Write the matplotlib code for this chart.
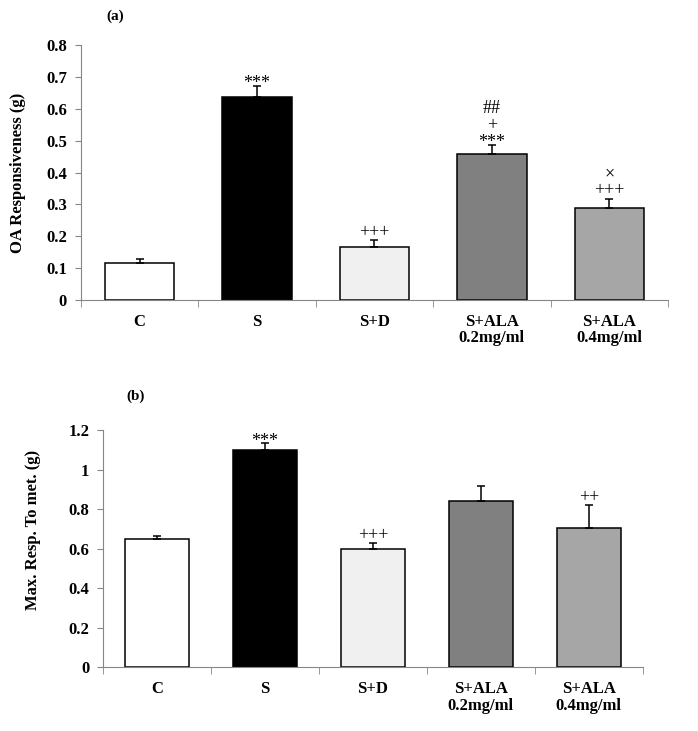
import matplotlib.pyplot as plt
from matplotlib.ticker import FuncFormatter, FixedLocator
import numpy as np

plt.rcParams['font.family'] = ['Liberation Serif', 'DejaVu Serif']

groups = ["C", "S", "S+D", "S+ALA\n0.2mg/ml", "S+ALA\n0.4mg/ml"]
bar_colors = ["#ffffff", "#000000", "#f0f0f0", "#808080", "#a6a6a6"]

# panel (a) OA responsiveness
oa_mean = [0.116, 0.638, 0.166, 0.458, 0.288]
oa_err = [0.012, 0.033, 0.022, 0.028, 0.030]
oa_marks = [[], ["***"], ["+++"], ["***", "+", "##"], ["+++", "×"]]

# panel (b) max response to met.
met_mean = [0.650, 1.098, 0.598, 0.840, 0.703]
met_err = [0.012, 0.034, 0.030, 0.077, 0.117]
met_marks = [[], ["***"], ["+++"], [], ["++"]]

gray = "#868686"


def draw_panel(ax, means, errs, marks, ymax, ystep, ylabel, label_pos):
    x = np.arange(len(groups))
    ax.bar(x, means, width=0.59, color=bar_colors, edgecolor="black", linewidth=1.1, zorder=2)
    ax.errorbar(x, means, yerr=[np.zeros(len(errs)), errs], fmt="none",
                ecolor="black", elinewidth=1.1, capsize=3, capthick=1.1, zorder=3)
    # significance marks, bottom row first, stacked in one text
    for i, lst in enumerate(marks):
        if not lst:
            continue
        off = -4.4 if "*" in lst[0] else -0.4
        ax.annotate("\n".join(lst[::-1]), xy=(x[i], means[i] + errs[i]), xytext=(0, off),
                    textcoords="offset points", ha="center", va="bottom",
                    fontsize=13, linespacing=1.0)
    ax.set_xlim(-0.5, len(groups) - 0.5)
    ax.set_ylim(0, ymax)
    ax.set_yticks(np.arange(0, ymax + 1e-9, ystep))
    ax.yaxis.set_major_formatter(FuncFormatter(lambda v, p: "%g" % round(v, 2)))
    ax.set_xticks(x)
    ax.set_xticklabels(groups, fontweight="bold", fontsize=12, linespacing=1.05)
    ax.xaxis.set_minor_locator(FixedLocator(np.arange(-0.5, len(groups), 1.0)))
    ax.tick_params(axis="x", which="major", length=0, pad=10)
    ax.tick_params(axis="x", which="minor", length=5, color=gray, direction="out")
    ax.tick_params(axis="y", length=4, color=gray, direction="out", labelsize=12, pad=6)
    for lab in ax.get_yticklabels():
        lab.set_fontweight("bold")
    for side in ["top", "right"]:
        ax.spines[side].set_visible(False)
    for side in ["left", "bottom"]:
        ax.spines[side].set_color(gray)
    ax.set_ylabel(ylabel, fontweight="bold", fontsize=12)
    ax.yaxis.set_label_coords(*label_pos)


fig = plt.figure(figsize=(6.98, 7.31), dpi=100)
ax1 = fig.add_axes([0.116, 0.5896, 0.841, 0.3488])
ax2 = fig.add_axes([0.1476, 0.0871, 0.7734, 0.3247])

draw_panel(ax1, oa_mean, oa_err, oa_marks, 0.8, 0.1, "OA Responsiveness (g)", (-0.094, 0.5))
draw_panel(ax2, met_mean, met_err, met_marks, 1.2, 0.2, "Max. Resp. To met. (g)", (-0.115, 0.58))

fig.text(115 / 698, 1 - 16 / 731, "(a)", fontweight="bold", fontsize=11, ha="center", va="center")
fig.text(136 / 698, 1 - 396 / 731, "(b)", fontweight="bold", fontsize=11, ha="center", va="center")

fig.savefig("out.png", dpi=100)
